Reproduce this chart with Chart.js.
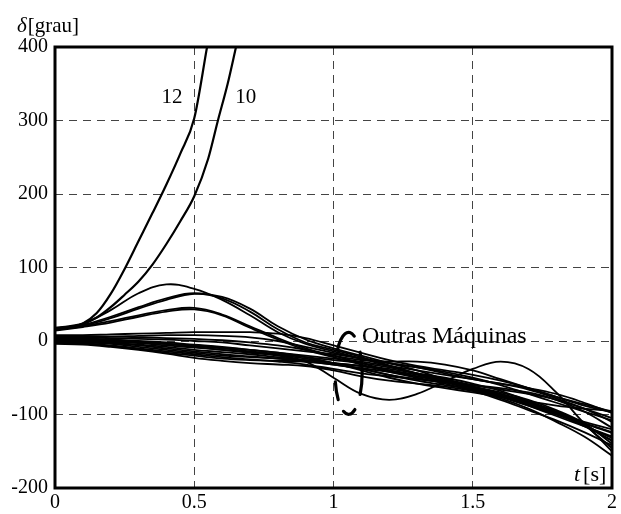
<!DOCTYPE html>
<html>
<head>
<meta charset="utf-8">
<script src="https://cdn.jsdelivr.net/npm/chart.js@4"></script>
<style>
  html, body { margin: 0; padding: 0; background: #fff; }
  #wrap { width: 621px; height: 514px; }
</style>
</head>
<body>
<div id="wrap"><canvas id="myChart" width="621" height="514"></canvas></div>
<script>
// time grid (s) shared by the "other machines"
var tGrid = [0,0.1,0.2,0.3,0.4,0.5,0.6,0.7,0.8,0.9,1,1.1,1.2,1.3,1.4,1.5,1.6,1.7,1.8,1.9,2];

// machines 12 and 10 run away (unstable)
var t12 = [0,0.05,0.1,0.15,0.2,0.25,0.3,0.35,0.4,0.45,0.5,0.546];
var d12 = [17,19,24,38,64,98,136,174,213,255,303,400];
var t10 = [0,0.05,0.1,0.15,0.2,0.25,0.3,0.35,0.4,0.45,0.5,0.55,0.585,0.62,0.65];
var d10 = [16,18,23,32,46,63,81,104,132,163,197,248,300,350,400];

// other machines, delta in degrees at tGrid
var others = [
  [18,24,42,65,77,71,56,35,12,-4,-14,-24,-34,-44,-54,-64,-76,-88,-100,-112,-124],
  [17,22,33,46,58,65,58,40,16,-2,-12,-22,-33,-45,-56,-66,-76,-86,-98,-110,-120],
  [16,21,31,44,56,64,60,44,20,2,-10,-20,-30,-40,-52,-62,-74,-88,-102,-116,-130],
  [15,20,27,35,42,45,36,20,4,-10,-20,-30,-40,-48,-56,-64,-72,-82,-96,-114,-136],
  [14,19,25,33,40,43,35,18,2,-12,-22,-32,-42,-50,-58,-68,-80,-94,-108,-124,-142],
  [8,8,9,10,11,12,12,12,10,4,-6,-16,-26,-34,-40,-46,-54,-64,-76,-88,-97],
  [6,6,6,7,8,8,7,5,0,-8,-16,-24,-30,-36,-42,-50,-60,-72,-84,-96,-108],
  [5,5,4,3,2,0,-2,-6,-10,-14,-18,-24,-30,-36,-44,-52,-58,-64,-72,-84,-98],
  [4,3,2,0,-2,-5,-8,-12,-16,-20,-24,-28,-34,-40,-46,-52,-58,-66,-78,-92,-105],
  [3,2,0,-2,-4,-7,-10,-14,-18,-22,-26,-30,-36,-44,-52,-60,-66,-72,-80,-92,-110],
  [2,1,-1,-3,-6,-9,-12,-15,-19,-24,-30,-38,-46,-52,-56,-60,-64,-70,-80,-96,-118],
  [1,0,-2,-5,-8,-12,-15,-18,-22,-26,-30,-34,-40,-46,-54,-62,-72,-84,-98,-112,-125],
  [0,-1,-3,-6,-10,-14,-18,-21,-24,-28,-32,-37,-42,-48,-55,-64,-74,-86,-100,-115,-132],
  [-1,-2,-4,-8,-12,-16,-20,-22,-24,-26,-30,-34,-38,-44,-50,-58,-68,-82,-98,-116,-135],
  [-2,-3,-6,-10,-14,-18,-22,-25,-28,-32,-38,-44,-48,-52,-56,-62,-70,-80,-94,-112,-140],
  [-3,-4,-7,-11,-16,-20,-24,-26,-27,-28,-32,-38,-46,-54,-60,-66,-74,-84,-96,-114,-150],
  [-4,-5,-8,-12,-17,-23,-27,-30,-32,-34,-40,-48,-54,-58,-62,-68,-78,-92,-110,-130,-156],
  [5,4,2,-1,-4,-8,-12,-16,-20,-28,-50,-72,-80,-72,-55,-38,-28,-38,-70,-112,-146],
  [7,7,6,5,4,3,1,-2,-6,-12,-20,-26,-28,-28,-32,-40,-52,-64,-76,-86,-96],
  [2,1,0,-2,-4,-6,-9,-12,-16,-22,-30,-40,-50,-58,-64,-70,-76,-82,-88,-92,-95]
];

var xTicks = [0, 0.5, 1, 1.5, 2];
var yTicks = [-200, -100, 0, 100, 200, 300, 400];

function pts(ts, vs) {
  return ts.map(function (t, i) { return {x: t, y: vs[i]}; });
}

var datasets = [];
others.forEach(function (vals) {
  datasets.push({data: pts(tGrid, vals), borderColor: "#000", borderWidth: 1.8, pointRadius: 0, tension: 0.4, fill: false});
});
datasets.push({data: pts(t12, d12), borderColor: "#000", borderWidth: 2.2, pointRadius: 0, cubicInterpolationMode: "monotone", fill: false});
datasets.push({data: pts(t10, d10), borderColor: "#000", borderWidth: 2.2, pointRadius: 0, cubicInterpolationMode: "monotone", fill: false});

var serif = "'Liberation Serif', 'Times New Roman', serif";

var decor = {
  id: "decor",
  afterDraw: function (chart) {
    var ctx = chart.ctx, a = chart.chartArea;
    var xs = chart.scales.x, ys = chart.scales.y;
    ctx.save();
    // frame
    ctx.strokeStyle = "#000";
    ctx.lineWidth = 3;
    ctx.setLineDash([]);
    ctx.strokeRect(a.left, a.top, a.right - a.left, a.bottom - a.top);

    // broken ellipse around the other machines
    var cx = xs.getPixelForValue(1.054), cy = ys.getPixelForValue(-44);
    var d = Math.PI / 180;
    var arcs = [[215, 295], [329, 391], [62, 112], [140, 168]];
    ctx.lineWidth = 3.2;
    ctx.lineCap = "round";
    arcs.forEach(function (r) {
      ctx.beginPath();
      ctx.ellipse(cx, cy, 13.5, 41, 0, r[0] * d, r[1] * d);
      ctx.stroke();
    });

    ctx.fillStyle = "#000";
    ctx.textBaseline = "alphabetic";
    ctx.font = "24px " + serif;
    ctx.textAlign = "left";
    ctx.fillText("Outras Máquinas", 362, 343);

    // machine labels
    ctx.font = "21px " + serif;
    ctx.textAlign = "center";
    ctx.fillText("12", xs.getPixelForValue(0.42), 103);
    ctx.fillText("10", xs.getPixelForValue(0.685), 103);

    // axis titles
    ctx.textAlign = "left";
    ctx.font = "italic 21px " + serif;
    ctx.fillText("δ", 17, 32);
    var w = ctx.measureText("δ").width;
    ctx.font = "21px " + serif;
    ctx.fillText("[grau]", 17 + w + 1, 32);

    ctx.font = "italic 22px " + serif;
    ctx.fillText("t", 574, 481);
    var wt = ctx.measureText("t").width;
    ctx.font = "22px " + serif;
    ctx.fillText("[s]", 574 + wt + 3, 481);
    ctx.restore();
  }
};

new Chart("myChart", {
  type: "line",
  data: {datasets: datasets},
  options: {
    responsive: false,
    animation: false,
    layout: {padding: {top: 47, right: 9, left: 0, bottom: 0}},
    plugins: {legend: {display: false}, tooltip: {enabled: false}},
    scales: {
      x: {
        type: "linear",
        min: 0, max: 2,
        afterFit: function (s) { s.height = 26; },
        afterBuildTicks: function (s) { s.ticks = xTicks.map(function (v) { return {value: v}; }); },
        ticks: {color: "#000", padding: 3, maxRotation: 0, font: {family: serif, size: 20},
          callback: function (v) { return String(v); }},
        grid: {color: "#444", lineWidth: 1, drawTicks: false},
        border: {display: false, dash: [8, 6]}
      },
      y: {
        min: -200, max: 400,
        afterFit: function (s) { s.width = 55; },
        afterBuildTicks: function (s) { s.ticks = yTicks.map(function (v) { return {value: v}; }); },
        ticks: {color: "#000", padding: 7, font: {family: serif, size: 20},
          callback: function (v) { return String(v); }},
        grid: {color: "#444", lineWidth: 1, drawTicks: false},
        border: {display: false, dash: [8, 6]}
      }
    }
  },
  plugins: [decor]
});
</script>
</body>
</html>
